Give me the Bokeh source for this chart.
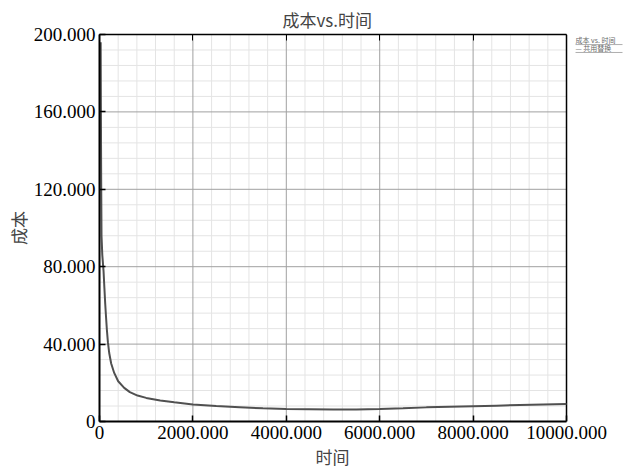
from bokeh.plotting import figure
from bokeh.models import FixedTicker, LinearAxis, Range1d, Label, Title
from bokeh.embed import file_html
from bokeh.resources import INLINE
import numpy as np

# data
time_vals = [25, 30, 36, 43, 60, 86, 105, 122, 140, 158, 180, 208, 250, 315, 400, 529, 650, 814,
             1000, 1300, 1600, 2000, 2500, 3000, 3500, 4000, 4500, 5000, 5500, 6000, 6500, 7000,
             7500, 8000, 8500, 9000, 9500, 10000]
cost_vals = [196, 160, 125, 96, 86, 78, 69, 61, 54, 47.4, 41, 35.4, 30, 25.1, 20.8, 17.4, 15.2, 13.4,
             12.2, 10.9, 9.9, 8.8, 8.0, 7.4, 6.8, 6.4, 6.3, 6.2, 6.2, 6.4, 6.8, 7.3,
             7.6, 7.9, 8.2, 8.5, 8.8, 9.1]

x_ticks = [0, 2000, 4000, 6000, 8000, 10000]
x_tick_labels = ["0", "2000.000", "4000.000", "6000.000", "8000.000", "10000.000"]
y_ticks = [0, 40, 80, 120, 160, 200]
y_tick_labels = ["0", "40.000", "80.000", "120.000", "160.000", "200.000"]

title_text = "成本vs.时间"
x_label = "时间"
y_label = "成本"
legend_title = "成本 vs. 时间"
legend_item = "— 共用替换"

CJK = "Noto Sans CJK SC"
NUM = "Liberation Serif"

X_MAX = 10000
Y_MAX = 200
# frame is widened to the right edge so the legend can sit inside it
X_VIEW = 11306

p = figure(width=627, height=468, output_backend="svg", toolbar_location=None,
           x_range=Range1d(0, X_VIEW), y_range=Range1d(0, Y_MAX),
           min_border_left=99, min_border_right=0, min_border_top=34, min_border_bottom=46)
p.title.text = title_text
p.title.align = "left"
p.title.text_font = CJK
p.title.text_font_size = "17px"
p.title.text_font_style = "normal"
p.title.offset = 183
p.title.standoff = 6

p.background_fill_color = "white"
p.border_fill_color = "white"
p.outline_line_color = None
p.grid.grid_line_color = None

x_minor = [v for v in np.arange(0, X_MAX + 1, 400) if v % 2000 != 0]
y_minor = [v for v in np.arange(0, Y_MAX + 1, 8) if v % 40 != 0]
p.xaxis.ticker = FixedTicker(ticks=x_ticks)
p.yaxis.ticker = FixedTicker(ticks=y_ticks)
p.xaxis.major_label_overrides = {t: l for t, l in zip(x_ticks, x_tick_labels)}
p.yaxis.major_label_overrides = {t: l for t, l in zip(y_ticks, y_tick_labels)}
p.xaxis.bounds = (0, X_MAX)

for ax in (p.xaxis[0], p.yaxis[0]):
    ax.major_label_text_font = NUM
    ax.major_label_text_font_size = "19px"
    ax.major_label_text_color = "black"
    ax.axis_label_text_font = CJK
    ax.axis_label_text_font_size = "17px"
    ax.axis_label_text_font_style = "normal"
    ax.axis_line_color = "black"
    ax.axis_line_width = 2
    ax.major_tick_in = 6
    ax.major_tick_out = 0
    ax.major_tick_line_color = "black"
    ax.major_tick_line_width = 1.5
    ax.minor_tick_line_color = None
    ax.major_label_standoff = 4
p.yaxis.axis_label = y_label
p.yaxis.axis_label_standoff = 0

# x axis title as a bottom title so it can be centred under the data area
p.add_layout(Title(text=x_label, align="left", offset=216, text_font=CJK,
                   text_font_size="17px", text_font_style="normal", standoff=0), "below")

# ticks on the top frame edge
top = LinearAxis(ticker=FixedTicker(ticks=x_ticks), major_label_text_font_size="0px",
                 major_label_standoff=0, major_tick_in=6, major_tick_out=0,
                 axis_line_color="black", axis_line_width=1.5, major_tick_line_color="black",
                 minor_tick_line_color=None, bounds=(0, X_MAX))
p.add_layout(top, "above")

# grid lines limited to the data area
nx, ny = len(x_minor), len(y_minor)
p.segment(x0=x_minor, y0=[0] * nx, x1=x_minor, y1=[Y_MAX] * nx, line_color="#e4e4e4", line_width=1)
p.segment(x0=[0] * ny, y0=y_minor, x1=[X_MAX] * ny, y1=y_minor, line_color="#e4e4e4", line_width=1)
mx = x_ticks[1:-1]
my = y_ticks[1:-1]
p.segment(x0=mx, y0=[0] * len(mx), x1=mx, y1=[Y_MAX] * len(mx), line_color="#a0a0a0", line_width=1)
p.segment(x0=[0] * len(my), y0=my, x1=[X_MAX] * len(my), y1=my, line_color="#a0a0a0", line_width=1)
# right edge of the data frame
p.segment(x0=[X_MAX], y0=[0], x1=[X_MAX], y1=[Y_MAX], line_color="black", line_width=1.5)

p.line(time_vals, cost_vals, line_color="#505050", line_width=2)

# small legend outside the data area
p.add_layout(Label(x=10193, y=196.9, text=legend_title, text_font=CJK, text_font_size="7px",
                   text_color="#6a6a6a", text_baseline="middle"))
p.add_layout(Label(x=10193, y=192.8, text=legend_item, text_font=CJK, text_font_size="7px",
                   text_color="#6a6a6a", text_baseline="middle"))
p.segment(x0=[10193, 10193], y0=[194.8, 190.7], x1=[11199, 11199], y1=[194.8, 190.7],
          line_color="#9a9a9a", line_width=0.8)

open("out.html", "w").write(file_html(p, INLINE))
